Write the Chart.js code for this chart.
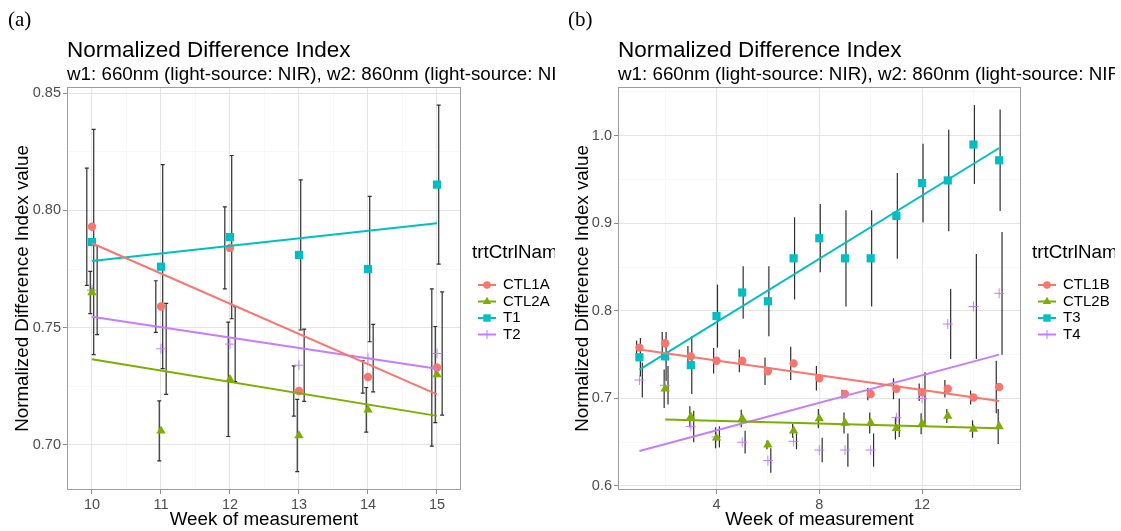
<!DOCTYPE html>
<html>
<head>
<meta charset="utf-8">
<script src="https://cdn.jsdelivr.net/npm/chart.js@4.4.1/dist/chart.umd.min.js"></script>
<style>
  html, body { margin: 0; padding: 0; background: #fff; }
  #wrap { position: relative; width: 1121px; height: 531px; overflow: hidden; background: #fff; }
  canvas { position: absolute; top: 0; }
  #panelA { left: 0; }
  #panelB { left: 560px; }
</style>
</head>
<body>
<div id="wrap">
  <canvas id="panelA" width="555" height="531" style="width:555px;height:531px"></canvas>
  <canvas id="panelB" width="555" height="531" style="width:555px;height:531px"></canvas>
</div>
<script>
// ---- panel (a): weeks 10-15 ----
const weeksA = [10, 11, 12, 13, 14, 15];
const ctl1aMean = [0.793, 0.759, 0.784, 0.723, 0.729, 0.733];
const ctl1aSd   = [0.025, 0.011, 0.0175, 0.0107, 0.0069, 0.0335];
const ctl2aMean = [0.765, 0.706, 0.728, 0.704, 0.715, 0.730];
const ctl2aSd   = [0.009, 0.0128, 0.0244, 0.0154, 0.0095, 0.0205];
const t1Mean    = [0.7865, 0.776, 0.7886, 0.781, 0.775, 0.811];
const t1Sd      = [0.048, 0.0435, 0.0348, 0.032, 0.031, 0.0339];
const t2Mean    = [0.766, 0.741, 0.743, 0.734, 0.737, 0.739];
const t2Sd      = [0.019, 0.0194, 0.016, 0.0154, 0.0144, 0.0263];

// fitted lm lines (start / end)
const fitWeeksA = [10, 15];
const ctl1aFit = [0.786, 0.7216];
const ctl2aFit = [0.7365, 0.7124];
const t1Fit    = [0.7784, 0.7945];
const t2Fit    = [0.7547, 0.7325];

// ---- panel (b): weeks 1-15 ----
const weeksB  = [1, 2, 3, 4, 5, 6, 7, 8, 9, 10, 11, 12, 13, 14, 15];
const weeksB2 = [2, 3, 4, 5, 6, 7, 8, 9, 10, 11, 12, 13, 14, 15];
const ctl1bMean = [0.758, 0.763, 0.748, 0.743, 0.743, 0.731, 0.740, 0.723, 0.705, 0.705, 0.711, 0.707, 0.711, 0.701, 0.713];
const ctl1bSd   = [0.008, 0.013, 0.012, 0.0146, 0.013, 0.0156, 0.019, 0.014, 0.005, 0.007, 0.012, 0.010, 0.010, 0.008, 0.030];
const ctl2bMean = [0.711, 0.679, 0.655, 0.677, 0.647, 0.663, 0.677, 0.672, 0.672, 0.666, 0.671, 0.680, 0.665, 0.668];
const ctl2bSd   = [0.022, 0.012, 0.012, 0.010, 0.005, 0.008, 0.011, 0.012, 0.012, 0.013, 0.012, 0.008, 0.010, 0.020];
const t3Mean    = [0.747, 0.748, 0.738, 0.794, 0.821, 0.811, 0.860, 0.883, 0.860, 0.860, 0.9085, 0.946, 0.949, 0.990, 0.972];
const t3Sd      = [0.022, 0.028, 0.033, 0.036, 0.030, 0.040, 0.047, 0.039, 0.055, 0.055, 0.049, 0.045, 0.058, 0.045, 0.058];
const t4Mean    = [0.721, 0.715, 0.668, 0.656, 0.650, 0.629, 0.651, 0.641, 0.641, 0.641, 0.678, 0.700, 0.785, 0.805, 0.820];
const t4Sd      = [0.020, 0.022, 0.018, 0.012, 0.013, 0.014, 0.009, 0.014, 0.019, 0.019, 0.022, 0.030, 0.040, 0.060, 0.070];

const fitWeeksB  = [1, 15];
const fitWeeksB2 = [2, 15];
const ctl1bFit = [0.756, 0.697];
const ctl2bFit = [0.676, 0.666];
const t3Fit    = [0.733, 0.986];
const t4Fit    = [0.640, 0.750];

// axis ticks
const xTicksA = [10, 11, 12, 13, 14, 15];
const yTicksA = [0.70, 0.75, 0.80, 0.85];
const xTicksB = [4, 8, 12];
const yTicksB = [0.6, 0.7, 0.8, 0.9, 1.0];

const namesA = ['CTL1A', 'CTL2A', 'T1', 'T2'];
const namesB = ['CTL1B', 'CTL2B', 'T3', 'T4'];

const COLORS = ['#F8766D', '#7CAE00', '#00BFC4', '#C77CFF'];
const SHAPES = ['circle', 'triangle', 'rect', 'cross'];
const RADII  = [4.2, 5.4, 5.8, 5];
const SANS = '"Liberation Sans", Arial, sans-serif';

// major ticks plus ggplot-style minor breaks half way between them
function withMinor(majors, min, max) {
    const step = majors[1] - majors[0];
    const ticks = majors.map(v => ({ value: v, minor: false }));
    for (let i = -1; i < majors.length; i++) {
        const v = majors[0] + (i + 0.5) * step;
        if (v > min && v < max) ticks.push({ value: v, minor: true });
    }
    return ticks.sort((a, b) => a.value - b.value);
}

const isMinor = c => c.tick && c.tick.minor;

function axis(majors, min, max, fitSize, title, digits, horizontal) {
    return {
        type: 'linear',
        min: min,
        max: max,
        afterBuildTicks: s => { s.ticks = withMinor(majors, min, max); },
        afterFit: s => { if (horizontal) s.height = fitSize; else s.width = fitSize; },
        border: { display: false },
        grid: {
            color: c => isMinor(c) ? '#F3F3F3' : '#E4E4E4',
            lineWidth: c => isMinor(c) ? 0.6 : 1,
            tickColor: c => isMinor(c) ? 'rgba(0,0,0,0)' : '#8c8c8c',
            tickLength: 4
        },
        ticks: {
            autoSkip: false,
            maxRotation: 0,
            padding: 2,
            color: '#4D4D4D',
            font: { family: SANS, size: 14.5 },
            callback: (v, i, t) => t[i].minor ? '' : v.toFixed(digits)
        },
        title: {
            display: true,
            text: title,
            color: '#000',
            font: { family: SANS, size: 18.8 },
            padding: horizontal ? { top: 0, bottom: 0 } : { top: 12, bottom: 0 }
        }
    };
}

// mean +/- sd bars, dodged sideways like position_dodge
const errorBarPlugin = {
    id: 'errorBars',
    beforeDatasetsDraw(chart, args, opts) {
        const { ctx, scales: { x, y } } = chart;
        ctx.save();
        ctx.strokeStyle = 'rgba(0,0,0,0.82)';
        ctx.lineWidth = 1.2;
        chart.data.datasets.forEach(ds => {
            if (!ds.sd) return;
            ds.data.forEach((p, i) => {
                const px = x.getPixelForValue(p.x + ds.dodge);
                const top = y.getPixelForValue(p.y + ds.sd[i]);
                const bot = y.getPixelForValue(p.y - ds.sd[i]);
                ctx.beginPath();
                ctx.moveTo(px, top);
                ctx.lineTo(px, bot);
                if (opts.cap) {
                    ctx.moveTo(px - opts.cap, top);
                    ctx.lineTo(px + opts.cap, top);
                    ctx.moveTo(px - opts.cap, bot);
                    ctx.lineTo(px + opts.cap, bot);
                }
                ctx.stroke();
            });
        });
        ctx.restore();
    }
};

// frame, panel letter, titles and legend
const decorPlugin = {
    id: 'decor',
    afterDraw(chart, args, o) {
        const { ctx, chartArea: a } = chart;
        ctx.save();
        ctx.strokeStyle = '#9c9c9c';
        ctx.lineWidth = 1;
        ctx.strokeRect(a.left + 0.5, a.top + 0.5, a.right - a.left - 1, a.bottom - a.top - 1);

        ctx.fillStyle = '#000';
        ctx.textBaseline = 'alphabetic';
        ctx.font = '21px "Liberation Serif", serif';
        ctx.fillText(o.letter, 8, 26);
        ctx.font = '22.5px ' + SANS;
        ctx.fillText(o.title, a.left, 57);
        ctx.font = '18.8px ' + SANS;
        ctx.fillText(o.subtitle, a.left, 80);

        const lx = a.right + 11;
        ctx.textBaseline = 'middle';
        ctx.fillText(o.legendTitle, lx, 253);
        ctx.font = '15px ' + SANS;
        o.names.forEach((name, i) => {
            const y = 285 + i * 16.5;
            ctx.strokeStyle = COLORS[i];
            ctx.fillStyle = COLORS[i];
            ctx.lineWidth = 2;
            ctx.beginPath();
            ctx.moveTo(lx + 6, y);
            ctx.lineTo(lx + 24, y);
            ctx.stroke();
            ctx.lineWidth = 1;
            Chart.helpers.drawPoint(ctx, { pointStyle: SHAPES[i], radius: RADII[i] * 0.9, borderWidth: SHAPES[i] === 'cross' ? 1 : 0, rotation: 0 }, lx + 15, y);
            ctx.fillStyle = '#000';
            ctx.fillText(name, lx + 31, y);
        });
        ctx.restore();
    }
};

function pointSet(i, name, weeks, mean, sd, dodge) {
    return {
        type: 'scatter',
        label: name,
        data: weeks.map((w, k) => ({ x: w, y: mean[k] })),
        pointStyle: SHAPES[i],
        pointRadius: RADII[i],
        backgroundColor: COLORS[i],
        borderColor: COLORS[i],
        borderWidth: SHAPES[i] === 'cross' ? 1 : 0,
        sd: sd,
        dodge: dodge,
        order: 1
    };
}

function fitSet(i, weeks, vals) {
    return {
        type: 'line',
        data: weeks.map((w, k) => ({ x: w, y: vals[k] })),
        showLine: true,
        borderColor: COLORS[i],
        borderWidth: 2,
        pointRadius: 0,
        fill: false,
        order: 0
    };
}

function makePanel(id, cfg) {
    new Chart(document.getElementById(id), {
        type: 'scatter',
        data: { datasets: cfg.datasets },
        options: {
            responsive: false,
            animation: false,
            events: [],
            layout: { padding: { left: 0, top: 87, right: 94, bottom: 0 } },
            scales: {
                x: axis(cfg.xTicks, cfg.xMin, cfg.xMax, 41, 'Week of measurement', 0, true),
                y: axis(cfg.yTicks, cfg.yMin, cfg.yMax, cfg.yWidth, 'Normalized Difference Index value', cfg.digits, false)
            },
            plugins: {
                legend: { display: false },
                tooltip: { enabled: false },
                errorBars: { cap: cfg.cap },
                decor: {
                    letter: cfg.letter,
                    title: 'Normalized Difference Index',
                    subtitle: 'w1: 660nm (light-source: NIR), w2: 860nm (light-source: NIR)',
                    legendTitle: 'trtCtrlName',
                    names: cfg.names
                }
            }
        },
        plugins: [errorBarPlugin, decorPlugin]
    });
}

const dodgeA = [-0.075, -0.025, 0.025, 0.075];
const dodgeB = [-0.1125, -0.0375, 0.0375, 0.1125];

makePanel('panelA', {
    letter: '(a)',
    names: namesA,
    xTicks: xTicksA, yTicks: yTicksA,
    xMin: 9.638, xMax: 15.348, yMin: 0.6808, yMax: 0.8526,
    yWidth: 67, digits: 2, cap: 2,
    datasets: [
        fitSet(0, fitWeeksA, ctl1aFit),
        fitSet(1, fitWeeksA, ctl2aFit),
        fitSet(2, fitWeeksA, t1Fit),
        fitSet(3, fitWeeksA, t2Fit),
        pointSet(0, namesA[0], weeksA, ctl1aMean, ctl1aSd, dodgeA[0]),
        pointSet(1, namesA[1], weeksA, ctl2aMean, ctl2aSd, dodgeA[1]),
        pointSet(2, namesA[2], weeksA, t1Mean, t1Sd, dodgeA[2]),
        pointSet(3, namesA[3], weeksA, t2Mean, t2Sd, dodgeA[3])
    ]
});

makePanel('panelB', {
    letter: '(b)',
    names: namesB,
    xTicks: xTicksB, yTicks: yTicksB,
    xMin: 0.166, xMax: 15.85, yMin: 0.5954, yMax: 1.0557,
    yWidth: 58, digits: 1, cap: 0,
    datasets: [
        fitSet(0, fitWeeksB, ctl1bFit),
        fitSet(1, fitWeeksB2, ctl2bFit),
        fitSet(2, fitWeeksB, t3Fit),
        fitSet(3, fitWeeksB, t4Fit),
        pointSet(0, namesB[0], weeksB, ctl1bMean, ctl1bSd, dodgeB[0]),
        pointSet(1, namesB[1], weeksB2, ctl2bMean, ctl2bSd, dodgeB[1]),
        pointSet(2, namesB[2], weeksB, t3Mean, t3Sd, dodgeB[2]),
        pointSet(3, namesB[3], weeksB, t4Mean, t4Sd, dodgeB[3])
    ]
});
</script>
</body>
</html>
